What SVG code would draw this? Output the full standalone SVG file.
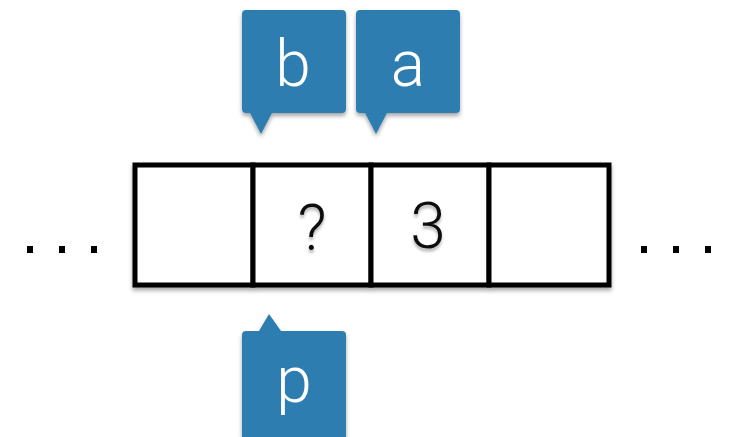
<svg xmlns="http://www.w3.org/2000/svg" width="731" height="437" viewBox="0 0 731 437">
  <defs>
    <filter id="shadow" x="-20%" y="-20%" width="140%" height="150%">
      <feGaussianBlur in="SourceAlpha" stdDeviation="2"/>
      <feOffset dx="0" dy="3" result="b"/>
      <feComponentTransfer><feFuncA type="linear" slope="0.35"/></feComponentTransfer>
      <feMerge><feMergeNode/><feMergeNode in="SourceGraphic"/></feMerge>
    </filter>
    <filter id="txtshadow" x="-30%" y="-30%" width="160%" height="160%">
      <feGaussianBlur in="SourceAlpha" stdDeviation="1.5"/>
      <feOffset dx="0" dy="3"/>
      <feComponentTransfer><feFuncA type="linear" slope="0.3"/></feComponentTransfer>
      <feMerge><feMergeNode/><feMergeNode in="SourceGraphic"/></feMerge>
    </filter>
  </defs>
  <style>
    .cell { fill: #ffffff; stroke: #000000; stroke-width: 5; }
    .bubble { fill: #2f7db0; }
    .label { font-family: Roboto, "Liberation Sans", sans-serif; font-weight: 300; fill: #ffffff; font-size: 64px; text-anchor: middle; }
    .value { font-family: Roboto, "Liberation Sans", sans-serif; font-weight: 300; fill: #111111; font-size: 64px; text-anchor: middle; }
    .dot { fill: #000000; }
  </style>
  <rect width="731" height="437" fill="#ffffff"/>

  <!-- array cells -->
  <g id="array" filter="url(#shadow)">
    <rect class="cell" x="135" y="165" width="118" height="120"/>
    <rect class="cell" x="253" y="165" width="118" height="120"/>
    <rect class="cell" x="371" y="165" width="118" height="120"/>
    <rect class="cell" x="489" y="165" width="120" height="120"/>
  </g>
  <g id="cell-values" filter="url(#txtshadow)">
    <text class="value" x="312" y="250">?</text>
    <text class="value" x="428" y="248">3</text>
  </g>

  <!-- ellipses on either side -->
  <g id="ellipsis-left">
    <rect class="dot" x="27" y="246" width="6" height="7"/>
    <rect class="dot" x="59" y="246" width="6" height="7"/>
    <rect class="dot" x="91" y="246" width="6" height="7"/>
  </g>
  <g id="ellipsis-right">
    <rect class="dot" x="641" y="246" width="6" height="7"/>
    <rect class="dot" x="673" y="246" width="6" height="7"/>
    <rect class="dot" x="705" y="246" width="6" height="7"/>
  </g>

  <!-- pointer bubbles -->
  <g id="pointer-b" filter="url(#shadow)">
    <path class="bubble" d="M246 10 H342 Q346 10 346 14 V109 Q346 113 342 113 H272 L261 134 L250 113 H246 Q242 113 242 109 V14 Q242 10 246 10 Z"/>
    <text class="label" x="293" y="86">b</text>
  </g>
  <g id="pointer-a" filter="url(#shadow)">
    <path class="bubble" d="M360 10 H456 Q460 10 460 14 V109 Q460 113 456 113 H387 L376 134 L365 113 H360 Q356 113 356 109 V14 Q356 10 360 10 Z"/>
    <text class="label" x="408" y="86">a</text>
  </g>
  <g id="pointer-p" filter="url(#shadow)">
    <path class="bubble" d="M246 331 H259 L269 314 L281 331 H342 Q346 331 346 335 V437 H242 V335 Q242 331 246 331 Z"/>
    <text class="label" x="294" y="402">p</text>
  </g>
</svg>
